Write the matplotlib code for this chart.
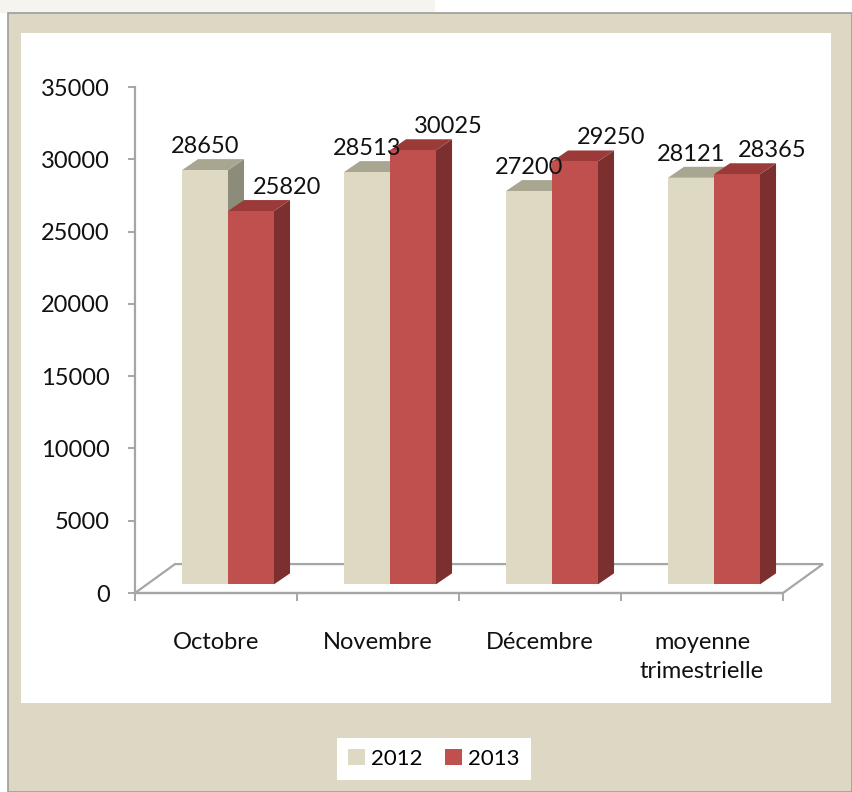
import numpy as np
import matplotlib
matplotlib.use("Agg")
import matplotlib.pyplot as plt
from matplotlib.patches import Rectangle, Polygon, Patch

plt.rcParams['font.family'] = ['Lato', 'DejaVu Sans']

# data
categories = ["Octobre", "Novembre", "Décembre", "moyenne\ntrimestrielle"]
series_names = ["2012", "2013"]
values_2012 = [28650, 28513, 27200, 28121]
values_2013 = [25820, 30025, 29250, 28365]
y_ticks = [0, 5000, 10000, 15000, 20000, 25000, 30000, 35000]

# colours (front, top, side)
col_2012 = ("#ddd9c3", "#a8a591", "#8d8b79")
col_2013 = ("#c0504d", "#9b3b39", "#7b2f2e")
frame_col = "#ddd8c3"
grid_col = "#a6a6a6"

W, H = 852, 792

def fx(x):
    return x / W

def fy(y):
    return 1 - y / H

fig = plt.figure(figsize=(W / 100, H / 100), dpi=100, facecolor="white")

# page background pieces
fig.add_artist(Rectangle((0, fy(13)), fx(435), 13 / H, transform=fig.transFigure,
                         facecolor="#f5f4ee", edgecolor="none", zorder=0))
fig.add_artist(Rectangle((fx(8), 0), 1 - fx(8), fy(13), transform=fig.transFigure,
                         facecolor=frame_col, edgecolor="#9c9c9c", linewidth=1.2, zorder=0))
fig.add_artist(Rectangle((fx(21), fy(703)), fx(831 - 21), (703 - 33) / H, transform=fig.transFigure,
                         facecolor="white", edgecolor="none", zorder=0))

# plot axes: x=-0.5 at px 135, 162 px per category; 0 at px 593, 35000 at px 87
x_left, x_right = -0.5, 3.75
ax = fig.add_axes([fx(135), fy(593), fx(162 * (x_right - x_left)), (593 - 87) / H])
ax.set_xlim(x_left, x_right)
ax.set_ylim(0, 35000)
ax.patch.set_alpha(0)

# 3D depth in data units
floor_dx, floor_dy = 0.247, 2000
bar_off_x, bar_off_y = 0.074, 600
depth_dx, depth_dy = 0.099, 760
bar_w = 0.284

# floor
floor = Polygon([(-0.5, 0), (3.5, 0), (3.5 + floor_dx, floor_dy), (-0.5 + floor_dx, floor_dy)],
                closed=True, facecolor="none", edgecolor=grid_col, linewidth=1.6, zorder=1,
                clip_on=False)
ax.add_patch(floor)


def draw_bar(x0, val, cols):
    x1 = x0 + bar_w
    b = bar_off_y
    t = val + bar_off_y
    front = Polygon([(x0, b), (x1, b), (x1, t), (x0, t)], closed=True,
                    facecolor=cols[0], edgecolor="none", zorder=3, clip_on=False)
    side = Polygon([(x1, b), (x1 + depth_dx, b + depth_dy), (x1 + depth_dx, t + depth_dy), (x1, t)],
                   closed=True, facecolor=cols[2], edgecolor="none", zorder=3, clip_on=False)
    top = Polygon([(x0, t), (x1, t), (x1 + depth_dx, t + depth_dy), (x0 + depth_dx, t + depth_dy)],
                  closed=True, facecolor=cols[1], edgecolor="none", zorder=3, clip_on=False)
    for p in (side, top, front):
        ax.add_patch(p)


label_rise = 1176
for i in range(len(categories)):
    x12 = i - bar_w + bar_off_x
    x13 = i + bar_off_x
    draw_bar(x12, values_2012[i], col_2012)
    draw_bar(x13, values_2013[i], col_2013)
    ax.text(x12 + bar_w / 2, values_2012[i] + bar_off_y + label_rise, str(values_2012[i]),
            ha="center", va="baseline", fontsize=17, color="#111111", zorder=5)
    ax.text(x13 + bar_w / 2 + 0.22, values_2013[i] + bar_off_y + label_rise, str(values_2013[i]),
            ha="center", va="baseline", fontsize=17, color="#111111", zorder=5)

# axes styling
for s in ("top", "right"):
    ax.spines[s].set_visible(False)
ax.spines["left"].set_color(grid_col)
ax.spines["left"].set_linewidth(1.6)
ax.spines["bottom"].set_color(grid_col)
ax.spines["bottom"].set_linewidth(1.6)
ax.spines["bottom"].set_bounds(-0.5, 3.5)

ax.set_yticks(y_ticks)
ax.set_yticklabels([str(v) for v in y_ticks])
ax.tick_params(axis="y", direction="out", length=5, width=1.4, color=grid_col,
               pad=13, labelsize=17, labelcolor="#111111")

ax.set_xticks(np.arange(len(categories)))
ax.set_xticklabels(categories, linespacing=1.5)
ax.set_xticks(np.arange(-0.5, len(categories), 1.0), minor=True)
ax.tick_params(axis="x", which="major", length=0, pad=28, labelsize=17, labelcolor="#111111")
ax.tick_params(axis="x", which="minor", direction="out", length=6, width=1.4, color=grid_col)

# legend
handles = [Patch(facecolor=col_2012[0], edgecolor="none"),
           Patch(facecolor=col_2013[0], edgecolor="none")]
leg = fig.legend(handles, series_names, loc="center", bbox_to_anchor=(fx(434), fy(759)),
                 ncol=2, frameon=True, fancybox=False, fontsize=16,
                 handlelength=0.75, handleheight=0.75, handletextpad=0.3,
                 columnspacing=1.0, borderpad=0.5, borderaxespad=0)
leg.get_frame().set_facecolor("white")
leg.get_frame().set_edgecolor("none")
leg.get_frame().set_alpha(1)

fig.savefig("out.png", dpi=100, facecolor="white")
